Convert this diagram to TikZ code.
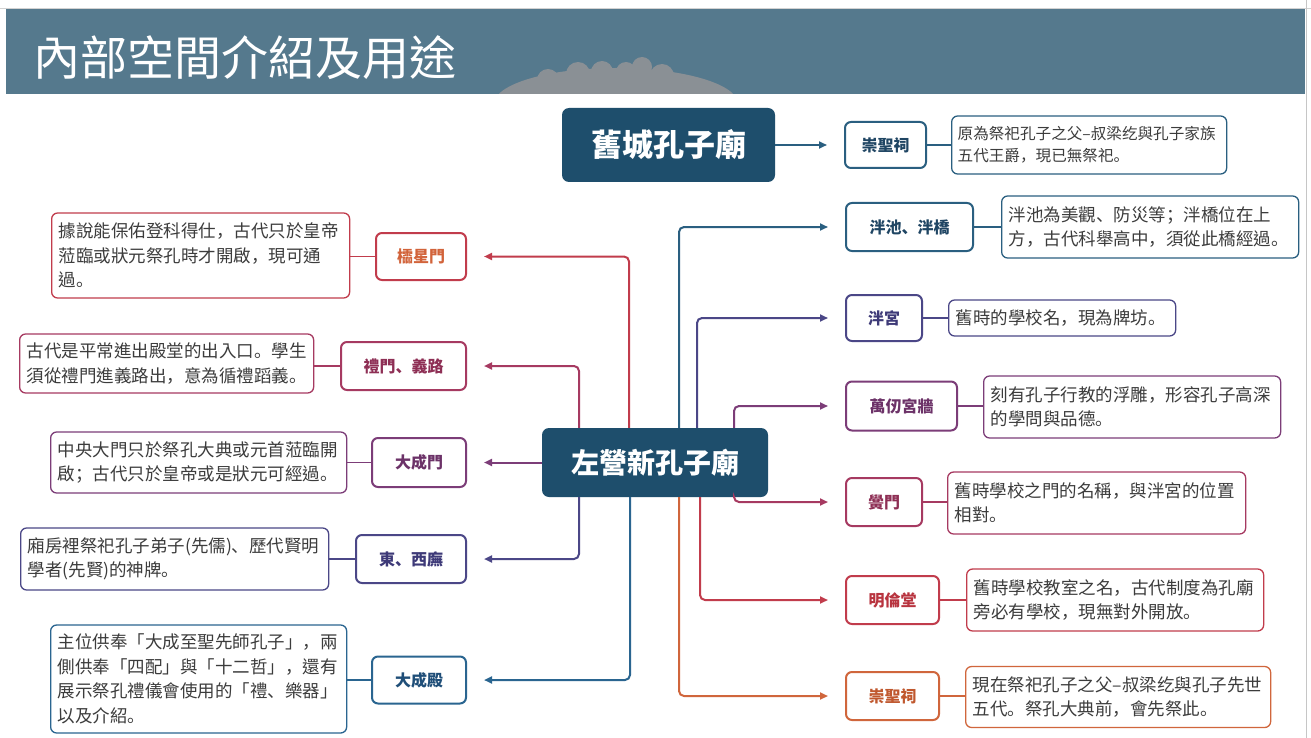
\documentclass[tikz,border=0pt]{standalone}
\usepackage{fontspec}
\setmainfont{Noto Sans CJK TC}
\newfontfamily\cjk{Noto Sans CJK TC}
\newfontfamily\cjksc{Noto Sans CJK SC}
\newcommand\pcm{{\cjksc ，}}
\newcommand\pst{{\cjksc 。}}
\newcommand\psc{{\cjksc ；}}
\newcommand\pdn{{\cjksc 、}}
\usetikzlibrary{arrows.meta}

\definecolor{hubc}{HTML}{1E4E6C}
\definecolor{headc}{HTML}{55798D}
\definecolor{cloudc}{HTML}{8A9095}
\definecolor{desctext}{HTML}{3C3C3C}
% branch colours
\definecolor{cteal}{HTML}{2A5F80}\definecolor{tteal}{HTML}{1F4563}
\definecolor{cblue}{HTML}{2A6590}\definecolor{tblue}{HTML}{1F4E78}
\definecolor{cindigo}{HTML}{4B4787}\definecolor{tindigo}{HTML}{3E3A78}
\definecolor{cplum}{HTML}{7C3D78}\definecolor{tplum}{HTML}{6C3268}
\definecolor{cmag}{HTML}{A63A61}\definecolor{tmag}{HTML}{8E2F55}
\definecolor{cred}{HTML}{C13C4C}\definecolor{tred}{HTML}{B8343F}
\definecolor{tlin}{HTML}{D2633A}
\definecolor{corange}{HTML}{D0663C}\definecolor{torange}{HTML}{C0582E}

\tikzset{
  hub/.style={fill=hubc, rounded corners=7pt, text=white, inner sep=0pt,
    font=\cjk\bfseries\fontsize{28}{30}\selectfont},
  lab/.style n args={2}{draw=#1, text=#2, line width=2pt, rounded corners=6pt,
    fill=white, inner sep=0pt, font=\cjk\bfseries\fontsize{16}{18}\selectfont},
  desc/.style={draw=#1, line width=1.3pt, rounded corners=6pt, fill=white,
    text=desctext, align=left, inner xsep=7pt, inner ysep=0pt, anchor=west,
    font=\cjk\fontsize{17.5}{24.5}\selectfont},
  arr/.style={draw=#1, line width=2pt, rounded corners=5pt,
    -{Triangle[length=8pt,width=7pt]}, shorten >=17pt},
  link/.style={draw=#1, line width=1.6pt},
}

\begin{document}
\begin{tikzpicture}[x=1pt,y=-1pt]
\useasboundingbox (0,0) rectangle (1311,738);
\fill[white] (0,0) rectangle (1311,738);

% header band
\fill[headc] (6,9) rectangle (1305,94);
\begin{scope}
  \clip (6,9) rectangle (1305,94);
  \fill[cloudc] (616,104) ellipse [x radius=122, y radius=36];
  \fill[cloudc] (578,74) circle (12) (602,72) circle (11) (626,72) circle (10)
     (642,67) circle (10) (662,76) circle (12) (548,80) circle (11);
\end{scope}
\draw[gray!35, line width=1pt] (0,8.5) -- (1311,8.5);
\draw[gray!45, line width=1.5pt] (1306.5,0) -- (1306.5,738);
\node[anchor=west, text=white, inner sep=0pt, font=\cjk\fontsize{47}{52}\selectfont] (title) at (33,58) {內部空間介紹及用途};

% hubs
\node[hub, minimum width=213pt, minimum height=74pt, font=\cjk\bfseries\fontsize{31}{33}\selectfont] (old) at (668.5,145) {舊城孔子廟};
\node[hub, minimum width=226pt, minimum height=69pt] (hub) at (655,462.5) {左營新孔子廟};

% old temple branch
\node[lab={cteal}{tteal}, minimum width=81pt, minimum height=46pt] (o1) at (885.5,145) {崇聖祠};
\node[desc=cteal, minimum width=275pt, text width=263pt, inner xsep=6pt, minimum height=58pt, font=\cjk\fontsize{15.6}{22}\selectfont] (od1) at (951,145) {\mbox{原為祭祀孔子之父–叔梁纥與孔子家族}\\五代王爵\pcm 現已無祭祀\pst};
\draw[arr=cteal] (old.east) -- (o1.west);
\draw[link=cteal] (o1.east) -- (od1.west);

% left labels
\node[lab={cred}{tlin}, minimum width=90pt, minimum height=47pt] (L1) at (421,256.5) {櫺星門};
\node[lab={cmag}{tmag}, minimum width=125pt, minimum height=48pt] (L2) at (403.5,366) {禮門\pdn 義路};
\node[lab={cplum}{tplum}, minimum width=94pt, minimum height=49pt] (L3) at (419,462.5) {大成門};
\node[lab={cindigo}{tindigo}, minimum width=110pt, minimum height=48pt] (L4) at (411,559) {東\pdn 西廡};
\node[lab={cblue}{tblue}, minimum width=94pt, minimum height=47pt] (L5) at (419,680) {大成殿};

% left descriptions
\node[desc=cred, minimum width=298pt, text width=284pt, minimum height=85pt] (D1) at (51,255.5) {據說能保佑登科得仕\pcm 古代只於皇帝\\蒞臨或狀元祭孔時才開啟\pcm 現可通\\過\pst};
\node[desc=cmag, minimum width=294pt, text width=280pt, minimum height=59pt] (D2) at (19,363.5) {古代是平常進出殿堂的出入口\pst 學生\\須從禮門進義路出\pcm 意為循禮蹈義\pst};
\node[desc=cplum, minimum width=296pt, text width=282pt, minimum height=61pt] (D3) at (50,462.5) {中央大門只於祭孔大典或元首蒞臨開\\啟\psc 古代只於皇帝或是狀元可經過\pst};
\node[desc=cindigo, minimum width=308pt, text width=294pt, minimum height=62pt] (D4) at (20,559) {廂房裡祭祀孔子弟子(先儒)\pdn 歷代賢明\\學者(先賢)的神牌\pst};
\node[desc=cblue, minimum width=296pt, text width=282pt, minimum height=108pt] (D5) at (50,679) {主位供奉「大成至聖先師孔子」\pcm 兩\\側供奉「四配」與「十二哲」\pcm 還有\\展示祭孔禮儀會使用的「禮\pdn 樂器」\\以及介紹\pst};

% right labels
\node[lab={cteal}{tteal}, minimum width=127pt, minimum height=48pt] (R1) at (909.5,227) {泮池\pdn 泮橋};
\node[lab={cindigo}{tindigo}, minimum width=76pt, minimum height=46pt] (R2) at (884,318) {泮宮};
\node[lab={cplum}{tplum}, minimum width=111pt, minimum height=49pt] (R3) at (901.5,406) {萬仞宮牆};
\node[lab={cmag}{tmag}, minimum width=76pt, minimum height=48pt] (R4) at (884,502) {黌門};
\node[lab={cred}{tred}, minimum width=93pt, minimum height=48pt] (R5) at (892.5,600) {明倫堂};
\node[lab={corange}{torange}, minimum width=93pt, minimum height=48pt] (R6) at (892.5,696) {崇聖祠};

% right descriptions
\node[desc=cteal, minimum width=297pt, text width=283pt, minimum height=62pt] (E1) at (1001,227) {泮池為美觀\pdn 防災等\psc 泮橋位在上\\方\pcm 古代科舉高中\pcm 須從此橋經過\pst};
\node[desc=cindigo, minimum width=227pt, text width=213pt, minimum height=36pt] (E2) at (948,318) {舊時的學校名\pcm 現為牌坊\pst};
\node[desc=cplum, minimum width=297pt, text width=283pt, minimum height=62pt] (E3) at (983,407) {刻有孔子行教的浮雕\pcm 形容孔子高深\\的學問與品德\pst};
\node[desc=cmag, minimum width=298pt, text width=284pt, minimum height=62pt] (E4) at (947,503) {舊時學校之門的名稱\pcm 與泮宮的位置\\相對\pst};
\node[desc=cred, minimum width=297pt, text width=283pt, minimum height=62pt] (E5) at (966,600) {舊時學校教室之名\pcm 古代制度為孔廟\\旁必有學校\pcm 現無對外開放\pst};
\node[desc=corange, minimum width=305pt, text width=291pt, minimum height=61pt] (E6) at (965,697) {\mbox{現在祭祀孔子之父–叔梁纥與孔子先世}\\五代\pst 祭孔大典前\pcm 會先祭此\pst};

% label-to-description links
\draw[link=cred] (L1.west) -- (D1.east |- L1.west);
\draw[link=cmag] (L2.west) -- (D2.east |- L2.west);
\draw[link=cplum] (L3.west) -- (D3.east |- L3.west);
\draw[link=cindigo] (L4.west) -- (D4.east |- L4.west);
\draw[link=cblue] (L5.west) -- (D5.east |- L5.west);
\draw[link=cteal] (R1.east) -- (E1.west |- R1.east);
\draw[link=cindigo] (R2.east) -- (E2.west |- R2.east);
\draw[link=cplum] (R3.east) -- (E3.west |- R3.east);
\draw[link=cmag] (R4.east) -- (E4.west |- R4.east);
\draw[link=cred] (R5.east) -- (E5.west |- R5.east);
\draw[link=corange] (R6.east) -- (E6.west |- R6.east);

% hub connectors, left
\draw[arr=cred] ([xshift=-26pt]hub.north) |- (L1.east);
\draw[arr=cmag] ([xshift=-76pt]hub.north) |- (L2.east);
\draw[arr=cplum] (hub.west) -- (L3.east);
\draw[arr=cindigo] ([xshift=-76pt]hub.south) |- (L4.east);
\draw[arr=cblue] ([xshift=-25pt]hub.south) |- (L5.east);
% hub connectors, right
\draw[arr=cteal] ([xshift=24pt]hub.north) |- (R1.west);
\draw[arr=cindigo] ([xshift=42pt]hub.north) |- (R2.west);
\draw[arr=cplum] ([xshift=79pt]hub.north) |- (R3.west);
\draw[arr=cmag] ([xshift=79pt]hub.south) |- (R4.west);
\draw[arr=cred] ([xshift=45pt]hub.south) |- (R5.west);
\draw[arr=corange] ([xshift=24pt]hub.south) |- (R6.west);
\end{tikzpicture}
\end{document}
